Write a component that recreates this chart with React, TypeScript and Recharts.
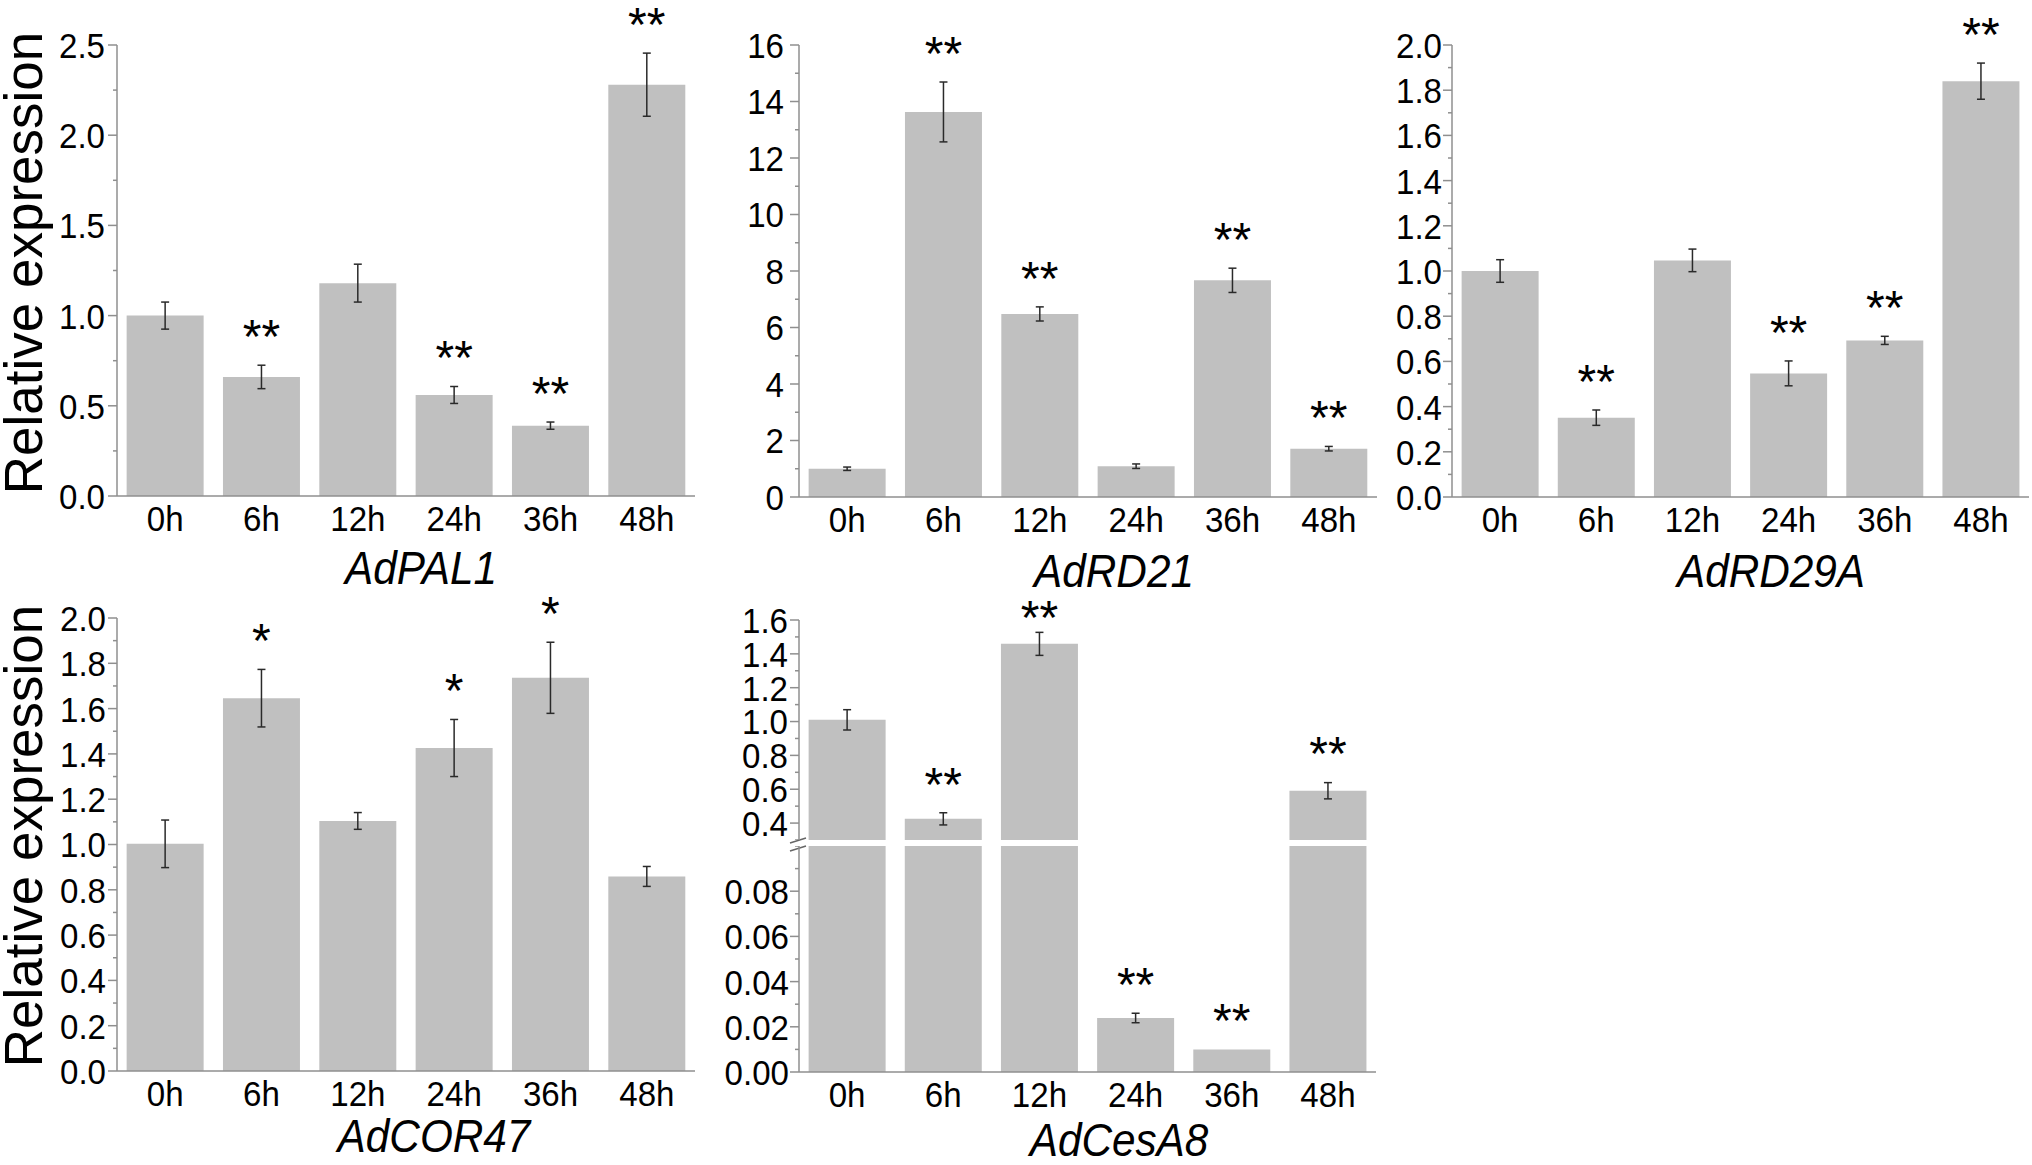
import { Bar, BarChart, ErrorBar, LabelList, XAxis, YAxis } from 'recharts';

const times = ['0h', '6h', '12h', '24h', '36h', '48h'];

const pal1Values = [1.0, 0.66, 1.18, 0.56, 0.39, 2.28];
const pal1Errors = [0.075, 0.065, 0.105, 0.047, 0.02, 0.175];
const pal1Marks = ['', '**', '', '**', '**', '**'];

const rd21Values = [1.0, 13.63, 6.48, 1.09, 7.67, 1.71];
const rd21Errors = [0.06, 1.06, 0.25, 0.08, 0.43, 0.08];
const rd21Marks = ['', '**', '**', '', '**', '**'];

const rd29aValues = [1.0, 0.351, 1.047, 0.547, 0.693, 1.84];
const rd29aErrors = [0.05, 0.034, 0.05, 0.055, 0.018, 0.08];
const rd29aMarks = ['', '**', '', '**', '**', '**'];

const cor47Values = [1.003, 1.646, 1.104, 1.426, 1.736, 0.859];
const cor47Errors = [0.105, 0.127, 0.037, 0.126, 0.157, 0.044];
const cor47Marks = ['', '*', '', '*', '*', ''];

const cesA8Values = [1.01, 0.425, 1.459, 0.0239, 0.01, 0.591];
const cesA8Errors = [0.06, 0.036, 0.068, 0.0021, 0, 0.048];
const cesA8UpperMarks = ['', '**', '**', '', '', '**'];
const cesA8LowerMarks = ['', '', '', '**', '**', ''];

// y ticks: labelled (major) and small unlabelled (minor) ones
const pal1Major = [0, 0.5, 1, 1.5, 2, 2.5];
const pal1Minor = [0.25, 0.75, 1.25, 1.75, 2.25];
const rd21Major = [0, 2, 4, 6, 8, 10, 12, 14, 16];
const rd21Minor = [1, 3, 5, 7, 9, 11, 13, 15];
const fracMajor = [0, 0.2, 0.4, 0.6, 0.8, 1, 1.2, 1.4, 1.6, 1.8, 2];
const fracMinor = [0.1, 0.3, 0.5, 0.7, 0.9, 1.1, 1.3, 1.5, 1.7, 1.9];
const cesUpperMajor = [0.4, 0.6, 0.8, 1, 1.2, 1.4, 1.6];
const cesUpperMinor = [0.3, 0.5, 0.7, 0.9, 1.1, 1.3, 1.5];
const cesLowerMajor = [0, 0.02, 0.04, 0.06, 0.08];
const cesLowerMinor = [0.01, 0.03, 0.05, 0.07, 0.09, 0.1];

const AXIS = '#8f8f8f';
const BAR = '#c0c0c0';
const ERR = '#2a2a2a';
const SANS = "'Liberation Sans', Arial, sans-serif";
const TICK_SIZE = 36;
const SQUEEZE = 0.92; // the figure's text is slightly narrower than Arial
const STAR_SIZE = 48;

type PanelProps = {
  values: number[];
  errors: number[];
  marks: string[];
  major: number[];
  minor: number[];
  domain: [number, number];
  digits: number;
  left: number;
  top: number;
  width: number;
  height: number;
  marginTop: number;
  xHeight: number;
  labelGap?: number;
  hideX?: boolean;
  clip?: boolean;
  starFloor?: number;
};

function NarrowText({ x, y, dy, anchor, children }: { x: number; y: number; dy: string | number; anchor: string; children: any }) {
  return (
    <text
      transform={`translate(${x},${y}) scale(${SQUEEZE},1)`}
      dy={dy}
      textAnchor={anchor as any}
      fontFamily={SANS}
      fontSize={TICK_SIZE}
      fill="#000"
    >
      {children}
    </text>
  );
}

function Panel(p: PanelProps) {
  const rows = times.map((t, i) => ({ time: t, value: p.values[i], err: p.errors[i], mark: p.marks[i] }));
  const base = Math.max(p.domain[0], 0);
  const gap = p.labelGap ?? 11;

  const yTick = (props: any) => {
    const { x, y, payload } = props;
    const isMajor = p.major.includes(payload.value);
    return (
      <g>
        <line x1={x} x2={x - (isMajor ? 9 : 4)} y1={y} y2={y} stroke={AXIS} strokeWidth={1.5} />
        {isMajor && (
          <NarrowText x={x - gap} y={y} dy="0.36em" anchor="end">
            {payload.value.toFixed(p.digits)}
          </NarrowText>
        )}
      </g>
    );
  };

  const xTick = (props: any) => (
    <NarrowText x={props.x} y={props.y} dy={35} anchor="middle">
      {props.payload.value}
    </NarrowText>
  );

  // significance marks sit a fixed distance above the top of the error bar
  const star = (props: any) => {
    if (!props.value) return null;
    const vb = props.viewBox ?? props;
    const row = rows[props.index] ?? props.payload;
    const ppu = vb.height / (row.value - base);
    let cy = vb.y - row.err * ppu - 40;
    if (p.starFloor != null) cy = Math.max(cy, p.starFloor);
    return (
      <text
        x={vb.x + vb.width / 2}
        y={cy + 0.58 * STAR_SIZE}
        textAnchor="middle"
        fontFamily={SANS}
        fontSize={STAR_SIZE}
        fill="#000"
      >
        {props.value}
      </text>
    );
  };

  return (
    <div style={{ position: 'absolute', left: p.left, top: p.top }}>
      <BarChart
        width={p.width}
        height={p.height}
        data={rows}
        margin={{ top: p.marginTop, right: 0, bottom: 0, left: 0 }}
        barCategoryGap="10%"
      >
        <XAxis
          dataKey="time"
          hide={p.hideX}
          height={p.xHeight}
          axisLine={{ stroke: AXIS, strokeWidth: 1.5 }}
          tickLine={false}
          tickSize={0}
          tickMargin={0}
          interval={0}
          tick={xTick}
        />
        <YAxis
          type="number"
          domain={p.domain}
          ticks={[...p.major, ...p.minor]}
          allowDataOverflow={p.clip}
          width={100}
          axisLine={{ stroke: AXIS, strokeWidth: 1.5 }}
          tickLine={false}
          tickSize={0}
          tickMargin={0}
          interval={0}
          tick={yTick}
        />
        <Bar dataKey="value" fill={BAR} isAnimationActive={false}>
          <ErrorBar dataKey="err" width={4} stroke={ERR} strokeWidth={1.5} />
          <LabelList dataKey="mark" content={star} />
        </Bar>
      </BarChart>
    </div>
  );
}

function GeneName({ x, y, name }: { x: number; y: number; name: string }) {
  return (
    <text
      transform={`translate(${x},${y}) scale(0.9,1)`}
      textAnchor="middle"
      fontFamily={SANS}
      fontSize={47}
      fontStyle="italic"
      fill="#000"
    >
      {name}
    </text>
  );
}

export default function App() {
  return (
    <div style={{ position: 'absolute', left: 0, top: 0, width: 2032, height: 1165, background: '#fff' }}>
      <svg width={2032} height={1165} style={{ position: 'absolute', left: 0, top: 0 }}>
        <g fontFamily={SANS} fontSize={53} fill="#000" textAnchor="middle">
          <text transform="translate(42,263) rotate(-90)">Relative expression</text>
          <text transform="translate(42,836) rotate(-90)">Relative expression</text>
        </g>
        <GeneName x={421} y={584} name="AdPAL1" />
        <GeneName x={1114} y={587} name="AdRD21" />
        <GeneName x={1771} y={587} name="AdRD29A" />
        <GeneName x={434} y={1152} name="AdCOR47" />
        <GeneName x={1119} y={1156} name="AdCesA8" />
        {/* axis break on the AdCesA8 panel */}
        <g stroke="#666" strokeWidth={1.5}>
          <line x1={790} y1={843} x2={806} y2={838} />
          <line x1={790} y1={851} x2={806} y2={846} />
        </g>
      </svg>

      <Panel values={pal1Values} errors={pal1Errors} marks={pal1Marks} major={pal1Major} minor={pal1Minor}
        domain={[0, 2.5]} digits={1} left={17} top={0} width={678} height={560} marginTop={45} xHeight={64}
        labelGap={12} />
      <Panel values={rd21Values} errors={rd21Errors} marks={rd21Marks} major={rd21Major} minor={rd21Minor}
        domain={[0, 16]} digits={0} left={699} top={0} width={678} height={560} marginTop={45} xHeight={63}
        labelGap={15} />
      <Panel values={rd29aValues} errors={rd29aErrors} marks={rd29aMarks} major={fracMajor} minor={fracMinor}
        domain={[0, 2]} digits={1} left={1352} top={0} width={677} height={560} marginTop={45} xHeight={63}
        labelGap={10} />
      <Panel values={cor47Values} errors={cor47Errors} marks={cor47Marks} major={fracMajor} minor={fracMinor}
        domain={[0, 2]} digits={1} left={17} top={570} width={678} height={560} marginTop={48} xHeight={59}
        labelGap={11} />
      <Panel values={cesA8Values} errors={cesA8Errors} marks={cesA8UpperMarks} major={cesUpperMajor}
        minor={cesUpperMinor} domain={[0.3, 1.6]} digits={1} left={699} top={570} width={677} height={270}
        marginTop={50} xHeight={0} hideX clip starFloor={36} labelGap={11} />
      <Panel values={cesA8Values} errors={cesA8Errors} marks={cesA8LowerMarks} major={cesLowerMajor}
        minor={cesLowerMinor} domain={[0, 0.1]} digits={2} left={699} top={846} width={677} height={284}
        marginTop={0} xHeight={58} clip labelGap={10} />
    </div>
  );
}
